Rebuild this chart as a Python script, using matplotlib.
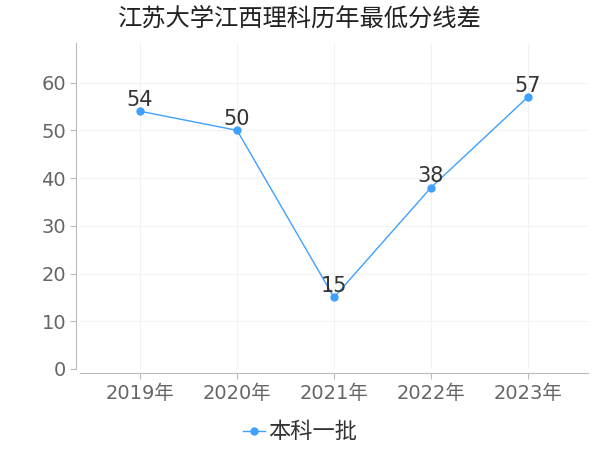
import matplotlib
matplotlib.use("Agg")
import matplotlib.pyplot as plt

plt.rcParams['font.family'] = ['DejaVu Sans', 'Noto Sans CJK SC']

years = ["2019年", "2020年", "2021年", "2022年", "2023年"]
values = [54, 50, 15, 38, 57]
series_name = "本科一批"
title = "江苏大学江西理科历年最低分线差"
cjk = ['Noto Sans CJK SC', 'DejaVu Sans']

fig = plt.figure(figsize=(6, 4.5), dpi=100)
ax = fig.add_axes([80/600, 1-369/450, (588-80)/600, (369-43)/450])
x = list(range(len(years)))
color = "#3fa0ff"
ax.plot(x, values, color=color, linewidth=1, marker='o', markersize=5, label=series_name)
for xi, v in zip(x, values):
    ax.text(xi, v + 1.1, str(v), ha='center', va='baseline', fontsize=15, color="#333333")

ax.set_xlim(-0.62, 4.62)
ax.set_ylim(0, 68.3)
ax.set_yticks([0, 10, 20, 30, 40, 50, 60])
ax.set_xticks(x)
ax.set_xticklabels(years)
ax.grid(True, color="#f3f3f3", linewidth=0.8)
ax.set_axisbelow(True)
for s in ['top', 'right']:
    ax.spines[s].set_visible(False)
ax.spines['left'].set_position(('outward', 3))
ax.spines['bottom'].set_position(('outward', 3))
ax.spines['left'].set_color("#bbbbbb")
ax.spines['bottom'].set_color("#bbbbbb")
ax.tick_params(axis='both', colors="#bbbbbb", labelcolor="#666666", labelsize=14, length=4)
ax.tick_params(axis='y', pad=3)
ax.tick_params(axis='x', pad=4)

fig.text(0.5, 1-19/450, title, ha='center', va='center', fontsize=17.5, color="#222222", family=cjk)
leg = fig.legend(loc='center', bbox_to_anchor=(0.5, 1-432/450), frameon=False,
           handlelength=1.0, handletextpad=0.15, labelcolor="#333333",
           prop={'family': cjk, 'size': 16})

fig.savefig("out.png", dpi=100)
